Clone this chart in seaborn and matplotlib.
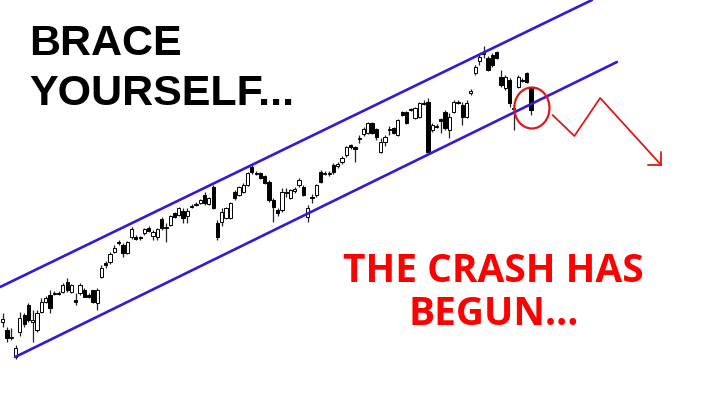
import numpy as np
import pandas as pd
import matplotlib
matplotlib.use("Agg")
import matplotlib.pyplot as plt
import seaborn as sns
from matplotlib.patches import Ellipse

sns.set_style("white")

# candle values (screen-depth units, smaller = higher price)
opens = [322, 330, 337, 357, 332, 315, 305, 322, 330, 312, 302, 295, 293, 293, 292, 282, 292, 300, 293, 290,
         295, 290, 303, 277, 263, 262, 252, 242, 245, 253, 237, 237, 237, 233, 228, 236, 237, 219, 227, 225,
         213, 215, 211, 216, 206, 204, 203, 195, 204, 187, 223, 222, 218, 218, 192, 195, 192, 185, 167, 173,
         173, 176, 182, 200, 210, 210, 192, 198, 191, 185, 187, 217, 197, 195, 172, 173, 173, 165, 166, 162,
         155, 145, 147, 138, 134, 133, 123, 129, 152, 142, 129, 128, 135, 112, 112, 109, 118, 117, 103, 102,
         130, 126, 119, 112, 130, 112, 102, 105, 117, 93, 73, 61, 53, 58, 55, 52, 77, 88, 80, 108,
         87, 80, 73, 88]
closes = [319, 338, 337, 348, 318, 324, 320, 320, 313, 302, 298, 308, 293, 293, 285, 290, 285, 302, 285, 297,
          297, 302, 290, 268, 265, 254, 248, 242, 253, 242, 229, 239, 238, 229, 231, 232, 229, 228, 227, 216,
          217, 208, 218, 211, 206, 204, 200, 203, 198, 208, 237, 212, 208, 203, 198, 187, 185, 173, 172, 173,
          178, 183, 200, 207, 213, 192, 192, 190, 189, 180, 195, 208, 197, 185, 182, 173, 173, 172, 164, 158,
          147, 147, 149, 138, 129, 123, 133, 137, 142, 137, 129, 133, 120, 115, 123, 109, 108, 103, 103, 152,
          125, 126, 121, 128, 117, 102, 102, 117, 103, 91, 67, 57, 53, 70, 65, 58, 85, 77, 103, 108,
          77, 80, 82, 110]
highs = [313, 327, 328, 345, 312, 313, 303, 310, 310, 298, 296, 290, 291, 291, 283, 278, 284, 293, 283, 288,
         293, 290, 288, 265, 261, 252, 245, 240, 243, 241, 227, 235, 236, 228, 226, 230, 228, 217, 223, 215,
         212, 207, 208, 208, 204, 202, 199, 192, 197, 185, 220, 208, 207, 202, 190, 186, 183, 172, 165, 171,
         172, 175, 180, 198, 208, 188, 188, 189, 187, 178, 185, 205, 194, 184, 170, 171, 171, 163, 162, 156,
         146, 144, 146, 135, 127, 122, 122, 128, 138, 135, 126, 127, 119, 111, 111, 108, 107, 102, 100, 98,
         123, 124, 118, 110, 113, 100, 100, 102, 100, 89, 65, 53, 46, 56, 53, 51, 70, 75, 78, 105,
         75, 78, 72, 88]
lows = [327, 342, 340, 359, 336, 327, 322, 342, 332, 313, 303, 313, 295, 295, 293, 292, 293, 305, 295, 297,
        298, 303, 310, 278, 268, 264, 253, 245, 257, 254, 239, 240, 240, 235, 232, 240, 240, 230, 242, 226,
        218, 216, 223, 223, 208, 206, 204, 205, 205, 209, 240, 226, 219, 219, 200, 196, 193, 186, 174, 175,
        179, 184, 202, 222, 216, 212, 197, 199, 193, 187, 196, 222, 203, 197, 183, 175, 176, 174, 168, 164,
        157, 149, 162, 143, 136, 134, 134, 140, 153, 146, 135, 134, 136, 116, 124, 111, 119, 118, 105, 152,
        132, 128, 133, 130, 138, 113, 104, 125, 118, 95, 75, 65, 58, 71, 67, 59, 87, 90, 107, 130,
        88, 82, 83, 115]

# trend channel and the drawn arrow (same units, x in candle index)
upper_x = [-0.6, 137.2]
upper_y = [287, 0]
lower_x = [2.9, 143.0]
lower_y = [357, 62]
zigzag_x = [128.0, 133.1, 139.1, 153.3]
zigzag_y = [115, 136, 98, 165]
head_x = [150.3, 153.3, 153.3]
head_y = [165, 165, 152]

df = pd.DataFrame({"open": opens, "close": closes, "high": highs, "low": lows})
df["day"] = np.arange(len(df))
df["up"] = df["close"] <= df["open"]

fig = plt.figure(figsize=(7.2, 4.04), dpi=100)
ax = fig.add_axes([0, 0, 1, 1])

# wicks
ax.vlines(df["day"], df["high"], df["low"], color="#222222", lw=0.9, zorder=2)
# bodies
body_lo = df[["open", "close"]].min(axis=1)
body_h = (df["open"] - df["close"]).abs().clip(lower=0.8)
colors = np.where(df["up"], "white", "black")
ax.bar(df["day"], body_h, bottom=body_lo, width=0.75, color=colors,
       edgecolor="black", linewidth=0.7, zorder=3)

chan = "#3b16d6"
sns.lineplot(x=upper_x, y=upper_y, ax=ax, color=chan, lw=1.9, zorder=4)
sns.lineplot(x=lower_x, y=lower_y, ax=ax, color=chan, lw=1.9, zorder=4)

red = "#e01818"
ax.plot(zigzag_x, zigzag_y, color=red, lw=1.3, zorder=5)
ax.plot(head_x, head_y, color=red, lw=1.3, zorder=5)
ax.add_patch(Ellipse((123.2, 108), 8.2, 41, fill=False, edgecolor=red, lw=1.6, zorder=5))

ax.set_xlim(-0.63, 167.0)
ax.set_ylim(404, 0)
ax.axis("off")

fig.text(0.041, 0.864, "BRACE", fontsize=31, fontweight="bold",
         family="Liberation Sans", color="black", va="baseline", ha="left")
fig.text(0.041, 0.740, "YOURSELF...", fontsize=31, fontweight="bold",
         family="Liberation Sans", color="black", va="baseline", ha="left")
fig.text(0.685, 0.303, "THE CRASH HAS", fontsize=28, fontweight="bold",
         family="Open Sans", color="#ff0000", va="baseline", ha="center")
fig.text(0.685, 0.196, "BEGUN...", fontsize=28, fontweight="bold",
         family="Open Sans", color="#ff0000", va="baseline", ha="center")

fig.savefig("out.png", dpi=100, facecolor="white")
